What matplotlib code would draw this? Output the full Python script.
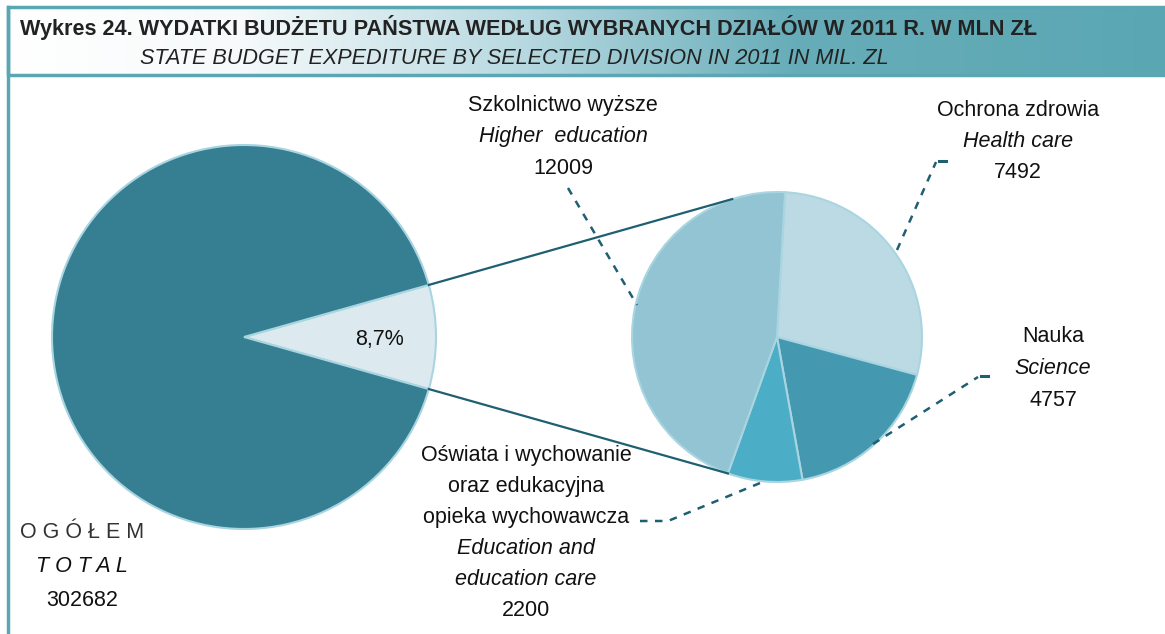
import numpy as np
import matplotlib
matplotlib.use("Agg")
import matplotlib.pyplot as plt
from matplotlib.colors import LinearSegmentedColormap
from matplotlib.patches import Rectangle
from matplotlib import font_manager

# ---------------- data ----------------
total_value = 302682
detail_labels_pl = ["Ochrona zdrowia", "Nauka",
                    "Oświata i wychowanie\noraz edukacyjna\nopieka wychowawcza",
                    "Szkolnictwo wyższe"]
detail_labels_en = ["Health care", "Science", "Education and\neducation care", "Higher  education"]
detail_values = [7492, 4757, 2200, 12009]
share_label = "8,7%"

title_pl = "Wykres 24. WYDATKI BUDŻETU PAŃSTWA WEDŁUG WYBRANYCH DZIAŁÓW W 2011 R. W MLN ZŁ"
title_en = "STATE BUDGET EXPEDITURE BY SELECTED DIVISION IN 2011 IN MIL. ZL"

# ---------------- style ----------------
avail = {f.name for f in font_manager.fontManager.ttflist}
narrow = "Liberation Sans Narrow" if "Liberation Sans Narrow" in avail else "Liberation Sans"
plt.rcParams["font.family"] = [narrow, "DejaVu Sans"]

W, H = 1165, 634
fig = plt.figure(figsize=(W / 100, H / 100), dpi=100)
ax = fig.add_axes([0, 0, 1, 1])

def Y(y):  # pixel row (top origin) -> data y
    return H - y

teal_dark = "#367f93"
slice_light = "#dce9ef"
edge = "#a9d5e1"
line_col = "#1f5f72"
detail_colors = ["#bcdae4", "#4499b0", "#4badc6", "#93c4d4"]

# ---------------- big pie ----------------
big_c = (244, Y(337))
big_r = 192
sub_total = sum(detail_values)
frac = sub_total / total_value
big_w, _ = ax.pie([sub_total, total_value - sub_total], colors=[slice_light, teal_dark],
                  center=big_c, radius=big_r, startangle=-frac * 180, counterclock=True,
                  wedgeprops=dict(edgecolor=edge, linewidth=1.5))

# ---------------- small pie ----------------
sm_c = (777, Y(337))
sm_r = 145
sm_start = 86.8
sm_w, _ = ax.pie(detail_values, colors=detail_colors, center=sm_c, radius=sm_r,
                 startangle=sm_start, counterclock=False,
                 wedgeprops=dict(edgecolor=edge, linewidth=1.5))

ax.set_xlim(0, W)
ax.set_ylim(0, H)
ax.set_aspect("equal")
ax.axis("off")

# connector lines from big slice edges to small pie
a_top = np.deg2rad(big_w[0].theta2)
a_bot = np.deg2rad(big_w[0].theta1)
p_top = (big_c[0] + big_r * np.cos(a_top), big_c[1] + big_r * np.sin(a_top))
p_bot = (big_c[0] + big_r * np.cos(a_bot), big_c[1] + big_r * np.sin(a_bot))
t_top = np.deg2rad(108)
t_bot = np.deg2rad(sm_w[2].theta1)
q_top = (sm_c[0] + sm_r * np.cos(t_top), sm_c[1] + sm_r * np.sin(t_top))
q_bot = (sm_c[0] + sm_r * np.cos(t_bot), sm_c[1] + sm_r * np.sin(t_bot))
ax.plot([p_top[0], q_top[0]], [p_top[1], q_top[1]], color=line_col, lw=1.6, zorder=3)
ax.plot([p_bot[0], q_bot[0]], [p_bot[1], q_bot[1]], color=line_col, lw=1.6, zorder=3)

fs = 15.5
ax.text(380, Y(340), share_label, ha="center", va="center", fontsize=fs, color="#111111")

# ---------------- labels ----------------
def label(x, y_top, pl, en, val, gap=31.5):
    lines = [(l, "normal") for l in pl.split("\n")] + [(l, "italic") for l in en.split("\n")] + [(str(val), "normal")]
    for i, (txt, st) in enumerate(lines):
        ax.text(x, Y(y_top + i * gap), txt, ha="center", va="center", fontsize=fs,
                style=st, color="#111111")

label(563, 105, detail_labels_pl[3], detail_labels_en[3], detail_values[3])
label(1018, 110, detail_labels_pl[0], detail_labels_en[0], detail_values[0])
label(1053, 337, detail_labels_pl[1], detail_labels_en[1], detail_values[1])
label(526, 455, detail_labels_pl[2], detail_labels_en[2], detail_values[2], gap=31.2)

# total label
ax.text(82, Y(533), "O G Ó Ł E M", ha="center", va="center", fontsize=fs, color="#333333")
ax.text(82, Y(567), "T O T A L", ha="center", va="center", fontsize=fs, style="italic", color="#111111")
ax.text(82, Y(600), str(total_value), ha="center", va="center", fontsize=fs, color="#111111")

# dashed leader lines
dash = dict(color=line_col, lw=1.8, ls=(0, (3, 3)), zorder=3)
ax.plot([568, 637], [Y(188), Y(305)], **dash)
ax.plot([897, 936], [Y(250), Y(162)], **dash)
ax.plot([939, 946], [Y(161), Y(161)], color=line_col, lw=2.2)
ax.plot([873, 978], [Y(444), Y(377)], **dash)
ax.plot([981, 988], [Y(376), Y(376)], color=line_col, lw=2.2)
ax.plot([640, 668, 765], [Y(521), Y(521), Y(481)], **dash)

# ---------------- header ----------------
stops = [(0.0, "#ffffff"), (0.2, "#f6fafb"), (0.45, "#b6d8e0"), (0.68, "#67adb9"), (1.0, "#5aa7b3")]
cmap = LinearSegmentedColormap.from_list("hdr", stops)
grad = np.linspace(0, 1, 512)[None, :]
ax.imshow(grad, cmap=cmap, extent=(8, W, Y(75), Y(7)), aspect="auto", zorder=1)
ax.add_patch(Rectangle((8, Y(75)), W, 68, fill=False, edgecolor="#5aa7b3", lw=2.5, zorder=2))
ax.plot([8, 8], [Y(7), 0], color="#5aa7b3", lw=2.5, zorder=2)
ax.set_xlim(0, W)
ax.set_ylim(0, H)

ax.text(20, Y(27), title_pl, ha="left", va="center", fontsize=15.6, weight="bold", color="#222222", zorder=4)
ax.text(140, Y(58), title_en, ha="left", va="center", fontsize=15.6, style="italic", color="#222222", zorder=4)

fig.savefig("out.png", dpi=100)
